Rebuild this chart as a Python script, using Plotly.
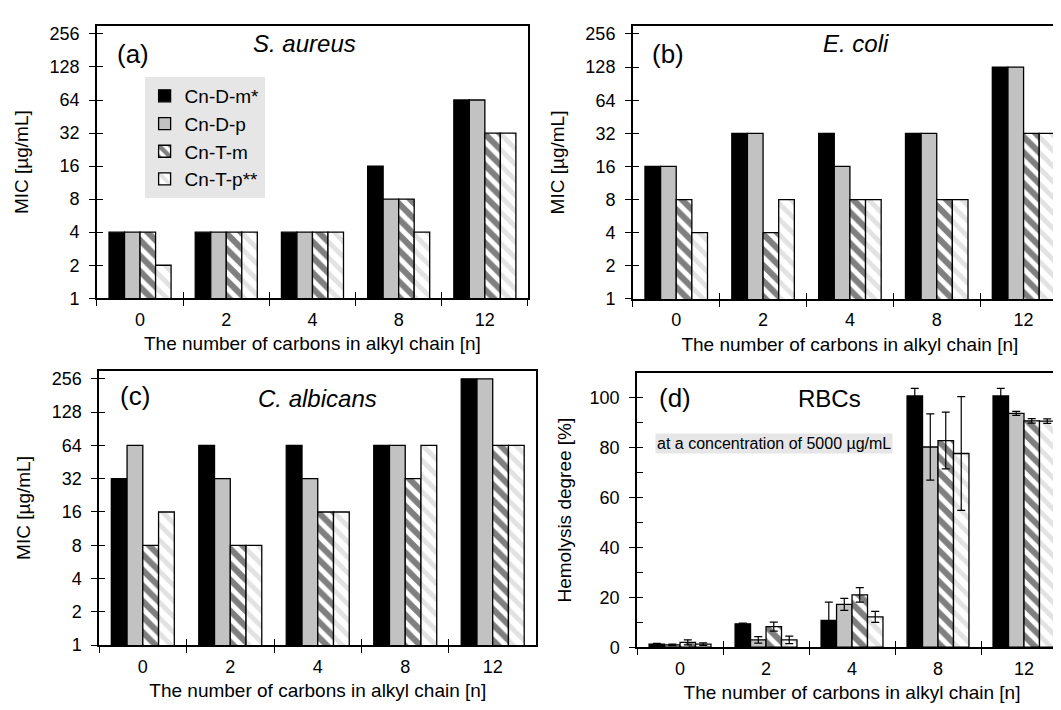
import plotly.graph_objects as go

FONT = "Liberation Sans, Arial, sans-serif"

categories = ["0", "2", "4", "8", "12"]
series_names = ["Cn-D-m*", "Cn-D-p", "Cn-T-m", "Cn-T-p**"]

# (a) S. aureus MIC [µg/mL]
aureus_Dm = [4, 4, 4, 16, 64]
aureus_Dp = [4, 4, 4, 8, 64]
aureus_Tm = [4, 4, 4, 8, 32]
aureus_Tp = [2, 4, 4, 4, 32]

# (b) E. coli MIC [µg/mL]
coli_Dm = [16, 32, 32, 32, 128]
coli_Dp = [16, 32, 16, 32, 128]
coli_Tm = [8, 4, 8, 8, 32]
coli_Tp = [4, 8, 8, 8, 32]

# (c) C. albicans MIC [µg/mL]
albicans_Dm = [32, 64, 64, 64, 256]
albicans_Dp = [64, 32, 32, 64, 256]
albicans_Tm = [8, 8, 16, 32, 64]
albicans_Tp = [16, 8, 16, 64, 64]

# (d) RBCs hemolysis degree [%] with error
rbc_Dm = [1.3, 9.4, 10.8, 100.8, 100.8]
rbc_Dm_err = [0.3, 0.3, 7.3, 3.0, 3.0]
rbc_Dp = [1.0, 3.0, 17.2, 80.3, 93.8]
rbc_Dp_err = [0.3, 1.3, 2.4, 13.3, 0.8]
rbc_Tm = [2.0, 8.3, 21.0, 82.9, 90.8]
rbc_Tm_err = [1.0, 1.8, 2.9, 11.4, 0.9]
rbc_Tp = [1.3, 3.0, 12.2, 77.7, 90.7]
rbc_Tp_err = [0.5, 1.5, 2.2, 22.8, 0.9]

mic_ticks = [1, 2, 4, 8, 16, 32, 64, 128, 256]
mic_ticktext = [str(v) for v in mic_ticks]
hem_ticks = [0, 20, 40, 60, 80, 100]

styles = [
    dict(color="black", pattern=None),
    dict(color="#c2c2c2", pattern=None),
    dict(color="white", pattern=dict(shape="\\", fgcolor="black", bgcolor="white", size=11, solidity=0.55)),
    dict(color="white", pattern=dict(shape="\\", fgcolor="#c6c6c6", bgcolor="white", size=11, solidity=0.45)),
]

fig = go.Figure()

panels = [
    ("x", "y", [aureus_Dm, aureus_Dp, aureus_Tm, aureus_Tp], None),
    ("x2", "y2", [coli_Dm, coli_Dp, coli_Tm, coli_Tp], None),
    ("x3", "y3", [albicans_Dm, albicans_Dp, albicans_Tm, albicans_Tp], None),
    ("x4", "y4", [rbc_Dm, rbc_Dp, rbc_Tm, rbc_Tp], [rbc_Dm_err, rbc_Dp_err, rbc_Tm_err, rbc_Tp_err]),
]

for pi, (xa, ya, vals, errs) in enumerate(panels):
    for si in range(4):
        st = styles[si]
        marker = dict(color=st["color"], line=dict(color="black", width=1.3))
        if st["pattern"] is not None:
            marker["pattern"] = st["pattern"]
        kw = {}
        if errs is not None:
            kw["error_y"] = dict(type="data", array=errs[si], visible=True,
                                 color="black", thickness=1.2, width=4)
        fig.add_trace(go.Bar(
            x=categories, y=vals[si], name=series_names[si],
            marker=marker, xaxis=xa, yaxis=ya,
            showlegend=(pi == 0), legendgroup=series_names[si],
            **kw))

# dummy traces for overlay axes (inside ticks)
for k in range(5, 9):
    fig.add_trace(go.Scatter(x=[], y=[], xaxis=f"x{k}", yaxis=f"y{k}",
                             showlegend=False, hoverinfo="skip"))

domains = {
    1: ([0.084, 0.491], [0.587, 0.977]),
    2: ([0.590, 1.0], [0.586, 0.977]),
    3: ([0.086, 0.499], [0.090, 0.483]),
    4: ([0.594, 1.0], [0.087, 0.480]),
}
log_range = [0, 2.48]
n = len(categories)
bounds = [i - 0.5 for i in range(n + 1)]

tick_font = dict(family=FONT, size=18, color="black")
ytitle_font = dict(family=FONT, size=19, color="black")
xtitle_font = dict(family=FONT, size=19, color="black")
xtitle = "The number of carbons in alkyl chain [n]"

layout_axes = {}
for i in range(1, 5):
    xd, yd = domains[i]
    xs = "" if i == 1 else str(i)
    xname = "xaxis" + xs
    yname = "yaxis" + xs
    layout_axes[xname] = dict(
        domain=xd, anchor="y" + xs, type="category",
        tickson="boundaries", ticks="outside", ticklen=6, tickwidth=1.3,
        tickcolor="black", showline=True, linecolor="black", linewidth=1.6,
        mirror=True, showgrid=False, tickfont=tick_font, ticklabelstandoff=4,
        title=dict(text=xtitle, font=xtitle_font, standoff=8),
        range=[-0.5, n - 0.5], fixedrange=True,
    )
    common_y = dict(
        domain=yd, anchor="x" + xs,
        ticks="outside", ticklen=6, tickwidth=1.3, tickcolor="black",
        showline=True, linecolor="black", linewidth=1.6, mirror=True,
        showgrid=False, zeroline=False, tickfont=tick_font, ticklabelstandoff=6,
    )
    if i < 4:
        layout_axes[yname] = dict(
            type="log", range=log_range,
            tickvals=mic_ticks, ticktext=mic_ticktext,
            title=dict(text="MIC [µg/mL]", font=ytitle_font, standoff=16),
            **common_y,
        )
    else:
        layout_axes[yname] = dict(
            type="linear", range=[0, 110], tickvals=hem_ticks,
            title=dict(text="Hemolysis degree [%]", font=ytitle_font, standoff=13),
            **common_y,
        )
    # overlay axes for inside (crossing) ticks
    k = i + 4
    layout_axes[f"xaxis{k}"] = dict(
        overlaying="x" + xs, anchor="y" + xs, type="linear",
        range=[-0.5, n - 0.5], tickvals=bounds, ticks="inside", ticklen=6,
        tickwidth=1.3, tickcolor="black", showticklabels=False,
        showline=False, showgrid=False, zeroline=False, side="bottom",
    )
    if i < 4:
        layout_axes[f"yaxis{k}"] = dict(
            overlaying="y" + xs, anchor="x" + xs, type="log", range=log_range,
            tickvals=mic_ticks, ticks="inside", ticklen=6, tickwidth=1.3,
            tickcolor="black", showticklabels=False, showline=False,
            showgrid=False, zeroline=False, side="left",
        )
    else:
        layout_axes[f"yaxis{k}"] = dict(
            overlaying="y" + xs, anchor="x" + xs, type="linear", range=[0, 110],
            tickvals=[v for v in range(0, 101, 10)], ticks="inside", ticklen=6,
            tickwidth=1.3, tickcolor="black", showticklabels=False,
            showline=False, showgrid=False, zeroline=False, side="left",
        )

annotations = [
    dict(text="(a)", x=0.1008, y=0.9366, xanchor="left", font=dict(size=26)),
    dict(text="<i>S. aureus</i>", x=0.2799, y=0.952, xanchor="center", font=dict(size=24)),
    dict(text="(b)", x=0.606, y=0.9366, xanchor="left", font=dict(size=26)),
    dict(text="<i>E. coli</i>", x=0.801, y=0.952, xanchor="center", font=dict(size=24)),
    dict(text="(c)", x=0.1037, y=0.4465, xanchor="left", font=dict(size=26)),
    dict(text="<i>C. albicans</i>", x=0.292, y=0.4437, xanchor="center", font=dict(size=24)),
    dict(text="(d)", x=0.6126, y=0.4437, xanchor="left", font=dict(size=26)),
    dict(text="RBCs", x=0.7757, y=0.4437, xanchor="center", font=dict(size=24)),
    dict(text="at a concentration of 5000 µg/mL", x=0.6105, y=0.3789, xanchor="left",
         font=dict(size=16), bgcolor="#e6e6e6", borderpad=1),
]
for a in annotations:
    a.update(xref="paper", yref="paper", yanchor="middle", showarrow=False)
    a["font"].update(family=FONT, color="black")

fig.update_layout(
    width=1061, height=710,
    margin=dict(l=0, r=0, t=0, b=0),
    paper_bgcolor="white", plot_bgcolor="white",
    barmode="group", bargap=0.28, bargroupgap=0,
    font=dict(family=FONT, size=15, color="black"),
    showlegend=True,
    legend=dict(x=0.129, y=0.904, xanchor="left", yanchor="top",
                bgcolor="#e6e6e6", font=dict(family=FONT, size=19, color="black"),
                tracegroupgap=3, itemwidth=30, traceorder="normal"),
    annotations=annotations,
    **layout_axes,
)

fig.write_html("out.html")
